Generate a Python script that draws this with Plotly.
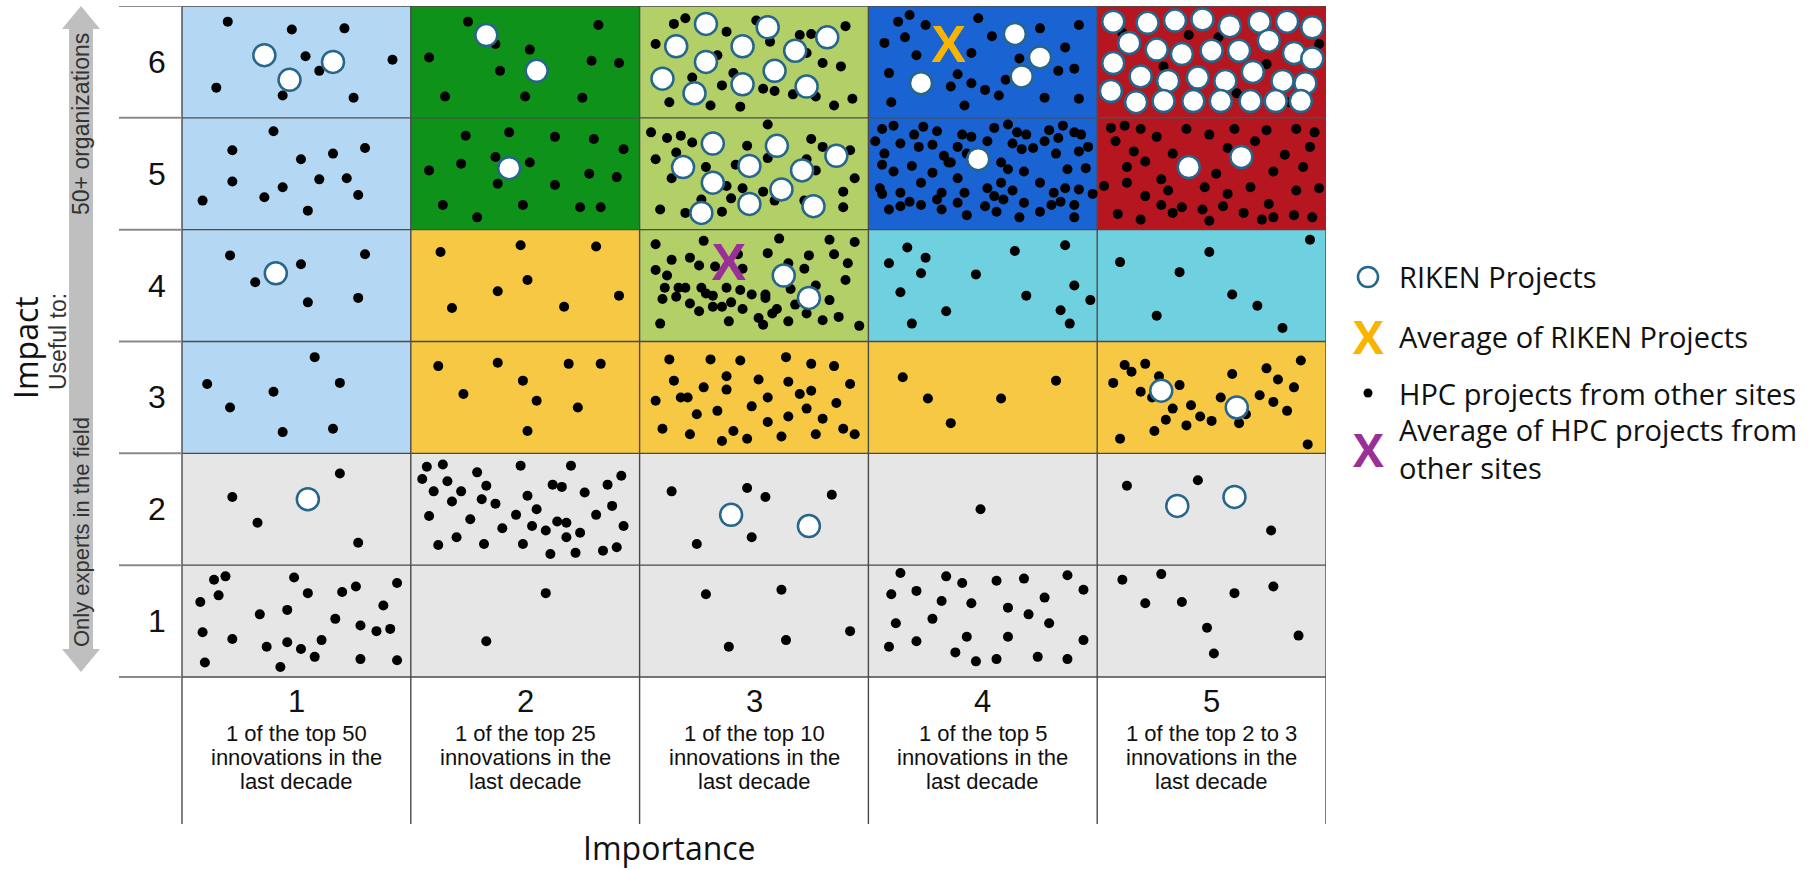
import plotly.graph_objects as go

# ---------------- data ----------------
importance_levels = [1, 2, 3, 4, 5]
importance_desc = [
    ["1 of the top 50", "innovations in the", "last decade"],
    ["1 of the top 25", "innovations in the", "last decade"],
    ["1 of the top 10", "innovations in the", "last decade"],
    ["1 of the top 5", "innovations in the", "last decade"],
    ["1 of the top 2 to 3", "innovations in the", "last decade"],
]
impact_levels = [1, 2, 3, 4, 5, 6]

# HPC projects from other sites (importance, impact), grouped by impact row
hpc_impact6 = [
    (0.70, 6.36), (0.98, 6.29), (1.21, 6.30), (1.04, 6.05), (1.10, 5.92), (1.42, 6.02), (0.65, 5.77), (0.94, 5.70), (1.25, 5.68),
    (1.75, 6.36), (2.32, 6.33), (1.87, 6.16), (2.02, 6.11), (1.58, 6.04), (2.29, 6.01), (2.41, 5.99), (1.89, 5.92), (1.65, 5.69), (2.00, 5.69), (2.25, 5.68),
    (2.65, 6.34), (2.70, 6.39), (2.57, 6.16), (2.88, 6.27), (2.84, 6.06), (2.73, 5.86), (2.91, 5.90), (2.86, 5.79), (2.63, 5.64), (2.81, 5.61), (2.94, 5.60),
    (3.01, 6.37), (3.07, 6.18), (3.20, 6.24), (3.25, 6.25), (3.40, 6.32), (3.30, 5.99), (3.38, 5.96), (3.04, 5.76), (3.09, 5.74), (3.17, 5.71), (3.27, 5.69),
    (3.35, 5.61), (3.43, 5.67), (3.23, 6.08),
    (3.63, 6.36), (3.68, 6.42), (3.75, 6.33), (3.57, 6.17), (3.66, 6.22), (3.71, 6.06), (3.59, 5.90), (3.60, 5.64), (3.98, 6.39), (4.04, 6.23), (3.95, 6.08),
    (3.89, 5.89), (3.86, 5.78), (3.95, 5.81), (4.01, 5.75), (4.07, 5.70), (3.92, 5.61), (4.16, 6.03), (4.25, 6.30), (4.36, 6.13), (4.42, 6.33), (4.33, 5.92),
    (4.40, 5.94), (4.10, 5.84), (4.27, 5.68), (4.42, 5.67),
    (4.61, 6.26), (5.03, 6.22), (5.24, 5.98), (5.47, 6.16), (5.34, 5.64), (4.79, 5.96), (5.11, 5.72), (4.90, 6.24),
]
hpc_impact5 = [
    (0.90, 5.38), (0.72, 5.21), (1.02, 5.13), (1.16, 5.18), (1.30, 5.23), (0.72, 4.93), (0.94, 4.88), (1.10, 4.95), (1.22, 4.96), (0.86, 4.79), (1.27, 4.81),
    (0.59, 4.76), (1.05, 4.67),
    (1.74, 5.34), (1.93, 5.37), (2.13, 5.33), (2.30, 5.31), (2.43, 5.22), (1.87, 5.15), (2.02, 5.10), (1.72, 5.09), (1.58, 5.03), (2.28, 5.00), (2.40, 4.97),
    (1.88, 4.91), (2.13, 4.90), (1.64, 4.72), (1.79, 4.61), (1.99, 4.72), (2.24, 4.70), (2.33, 4.70),
    (2.55, 5.37), (2.62, 5.32), (2.68, 5.34), (2.73, 5.28), (2.66, 5.19), (2.57, 5.13), (2.97, 5.25), (2.79, 5.06), (2.64, 4.96), (2.92, 5.08), (2.88, 4.89),
    (2.90, 4.78), (2.95, 4.87), (2.59, 4.68), (2.70, 4.65), (2.86, 4.66), (2.77, 4.77), (3.06, 5.44), (3.25, 5.31), (3.30, 5.24), (3.42, 5.21), (3.06, 5.14),
    (3.23, 5.13), (3.27, 5.03), (3.44, 4.96), (3.04, 4.84), (3.39, 4.84), (3.09, 4.76), (3.39, 4.70), (3.22, 4.76),
    (3.91, 5.35), (3.95, 5.33), (4.05, 5.41), (4.11, 5.44), (4.15, 5.37), (4.19, 5.35), (4.29, 5.39), (4.35, 5.43), (4.40, 5.37), (4.43, 5.35), (3.89, 5.24),
    (4.02, 5.29), (4.13, 5.27), (4.17, 5.22), (4.22, 5.23), (4.27, 5.29), (4.33, 5.32), (4.46, 5.24), (4.42, 5.20), (4.32, 5.18), (3.86, 5.10), (3.93, 5.18),
    (4.08, 5.10), (4.11, 5.04), (4.18, 5.02), (4.37, 5.04), (4.45, 5.05), (3.89, 4.96), (4.02, 4.87), (4.08, 4.92), (4.13, 4.85), (4.25, 4.92), (4.31, 4.83),
    (4.36, 4.87), (4.42, 4.86), (3.92, 4.83), (4.05, 4.80),
    (3.56, 5.40), (3.61, 5.43), (3.74, 5.42), (3.80, 5.38), (3.53, 5.29), (3.64, 5.27), (3.70, 5.35), (3.72, 5.24), (3.78, 5.26), (3.57, 5.18), (3.83, 5.16),
    (3.56, 5.08), (3.61, 5.02), (3.69, 5.07), (3.78, 5.01), (3.85, 5.10), (3.55, 4.87), (3.64, 4.83), (3.73, 4.92), (3.82, 4.83),
    (3.59, 4.68), (3.64, 4.71), (3.73, 4.72), (3.82, 4.68), (3.93, 4.63), (4.01, 4.71), (4.06, 4.66), (4.16, 4.61), (4.25, 4.66), (4.30, 4.72), (4.40, 4.61),
    (4.40, 4.72), (3.68, 4.75), (3.80, 4.77), (3.89, 4.74), (4.09, 4.77), (4.18, 4.74), (4.34, 4.75), (4.48, 4.82), (3.56, 4.82),
    (4.56, 5.41), (4.62, 5.43), (4.69, 5.40), (4.58, 5.29), (4.66, 5.20), (4.63, 5.06), (4.71, 5.11), (4.53, 4.89), (4.63, 4.92), (4.71, 4.80),
    (4.76, 5.33), (4.89, 5.40), (4.99, 5.35), (5.10, 5.40), (5.24, 5.39), (5.37, 5.40), (5.45, 5.37), (4.83, 5.18), (5.07, 5.23), (5.19, 5.29), (5.32, 5.17),
    (5.43, 5.24), (4.78, 4.95), (5.02, 5.00), (5.27, 5.02), (5.40, 5.06), (4.81, 4.85), (4.97, 4.88), (5.07, 4.82), (5.17, 4.88), (5.37, 4.85), (5.47, 4.87),
    (4.78, 4.72), (4.83, 4.65), (4.87, 4.70), (4.96, 4.68), (4.99, 4.58), (5.05, 4.71), (5.14, 4.65), (5.22, 4.59), (5.27, 4.61), (5.25, 4.73), (5.36, 4.63),
    (4.59, 4.64), (4.69, 4.59), (5.44, 4.61),
]
hpc_impact4 = [
    (0.71, 4.27), (1.30, 4.28), (1.02, 4.19), (0.82, 4.03), (1.27, 3.89), (1.05, 3.85),
    (1.63, 4.30), (1.98, 4.36), (2.31, 4.35), (2.01, 4.05), (1.88, 3.95), (2.41, 3.91), (1.68, 3.80), (2.17, 3.81),
    (2.57, 4.37), (2.78, 4.40), (2.64, 4.23), (2.72, 4.25), (2.76, 4.18), (2.57, 4.14), (2.83, 4.17), (2.62, 4.09), (2.95, 4.15), (2.93, 4.28), (2.61, 3.98),
    (2.67, 3.98), (2.70, 3.98), (2.77, 3.98), (2.88, 3.98), (2.94, 3.96), (2.82, 3.91), (3.11, 4.42), (3.33, 4.41), (3.44, 4.39), (3.06, 4.29), (3.15, 4.20),
    (3.24, 4.27), (3.35, 4.28), (3.41, 4.20), (3.22, 4.15), (3.40, 4.05), (3.27, 4.00), (3.05, 3.92), (3.16, 3.97), (2.66, 3.90), (2.79, 3.93), (2.99, 3.92),
    (3.05, 3.89), (2.60, 3.88), (2.72, 3.84), (2.76, 3.77), (2.82, 3.81), (2.86, 3.81), (2.90, 3.85), (2.95, 3.79), (2.89, 3.68), (3.02, 3.71), (3.04, 3.65),
    (3.08, 3.75), (3.10, 3.79), (3.15, 3.68), (3.18, 3.83), (3.23, 3.75), (3.30, 3.69), (3.33, 3.87), (3.37, 3.72), (3.46, 3.64), (2.59, 3.66),
    (3.67, 4.34), (3.75, 4.25), (3.59, 4.20), (4.14, 4.31), (4.36, 4.36), (3.73, 4.11), (3.97, 4.10), (4.40, 4.00), (4.19, 3.91), (3.64, 3.94), (3.84, 3.77),
    (3.69, 3.66), (4.34, 3.78), (4.38, 3.66), (4.47, 3.87),
    (4.60, 4.21), (4.86, 4.12), (4.99, 4.30), (5.09, 3.92), (5.20, 3.82), (4.76, 3.73), (5.31, 3.62), (5.43, 4.41),
]
hpc_impact3 = [
    (1.08, 3.36), (0.61, 3.12), (0.90, 3.05), (1.19, 3.13), (0.71, 2.91), (0.94, 2.69), (1.16, 2.72),
    (1.62, 3.28), (1.88, 3.31), (2.19, 3.30), (2.33, 3.30), (1.99, 3.15), (1.73, 3.03), (2.05, 2.97), (2.23, 2.91), (2.01, 2.70),
    (2.63, 3.34), (2.81, 3.34), (2.94, 3.33), (3.14, 3.36), (3.25, 3.30), (3.35, 3.28), (2.65, 3.15), (2.78, 3.09), (2.88, 3.19), (2.88, 3.07), (3.02, 3.16),
    (3.15, 3.14), (3.25, 3.06), (3.20, 3.03), (3.06, 3.00), (3.42, 3.12), (2.68, 3.00), (2.71, 3.00), (2.57, 2.97), (2.75, 2.85), (2.84, 2.88), (2.99, 2.92),
    (3.36, 2.95), (3.23, 2.90), (3.15, 2.83), (3.06, 2.78), (3.30, 2.81), (3.39, 2.72), (3.27, 2.67), (2.60, 2.72), (2.72, 2.67), (2.91, 2.70), (2.97, 2.63),
    (2.86, 2.61), (3.12, 2.65), (3.44, 2.67),
    (3.65, 3.18), (4.32, 3.15), (3.76, 2.99), (4.08, 2.99), (3.86, 2.77),
    (4.62, 3.29), (4.71, 3.30), (4.65, 3.23), (4.57, 3.13), (4.69, 3.05), (4.74, 3.00), (4.75, 2.70), (4.60, 2.63), (4.77, 3.19), (4.86, 3.11), (4.83, 2.90),
    (4.91, 2.93), (4.95, 2.83), (5.00, 2.79), (5.04, 3.00), (5.09, 3.21), (5.12, 2.77), (5.15, 2.85), (5.21, 3.02), (5.24, 3.26), (5.27, 2.96), (5.29, 3.16),
    (5.33, 2.88), (5.36, 3.09), (5.39, 3.33), (4.80, 2.80), (4.89, 2.75), (5.42, 2.58),
]
hpc_impact2 = [
    (1.19, 2.32), (0.72, 2.11), (0.83, 1.88), (1.27, 1.70),
    (1.57, 2.38), (1.64, 2.40), (1.79, 2.33), (1.98, 2.39), (2.20, 2.39), (2.42, 2.30), (1.55, 2.27), (1.66, 2.25), (1.83, 2.21), (2.12, 2.22), (2.16, 2.20),
    (2.36, 2.22), (1.72, 2.16), (2.26, 2.15), (1.60, 2.16), (1.68, 2.07), (1.81, 2.09), (1.87, 2.05), (2.01, 2.12), (2.38, 2.03), (1.58, 1.94), (1.76, 1.91),
    (1.96, 1.95), (2.05, 2.00), (2.31, 1.95), (2.43, 1.85), (1.90, 1.83), (2.03, 1.85), (2.09, 1.81), (2.14, 1.89), (2.18, 1.88), (2.24, 1.79), (2.18, 1.75),
    (1.62, 1.68), (1.70, 1.75), (1.82, 1.69), (1.99, 1.69), (2.11, 1.60), (2.22, 1.61), (2.34, 1.63), (2.40, 1.66),
    (2.64, 2.16), (2.97, 2.19), (3.05, 2.11), (3.34, 2.13), (2.75, 1.69), (2.99, 1.75),
    (3.99, 2.00),
    (4.63, 2.21), (4.94, 2.26), (5.26, 1.81),
]
hpc_impact1 = [
    (0.69, 1.40), (0.64, 1.37), (0.58, 1.17), (0.66, 1.23), (0.99, 1.39), (0.84, 1.06), (0.96, 1.10), (1.05, 1.25), (1.20, 1.26), (1.26, 1.31), (1.44, 1.34),
    (1.38, 1.14), (1.17, 1.02), (0.59, 0.90), (0.72, 0.84), (0.87, 0.77), (0.96, 0.81), (1.02, 0.75), (1.08, 0.68), (1.11, 0.83), (1.28, 0.96), (1.35, 0.91),
    (1.41, 0.93), (0.60, 0.63), (0.93, 0.59), (1.28, 0.66), (1.44, 0.65),
    (2.09, 1.25), (1.83, 0.82),
    (2.79, 1.24), (3.12, 1.28), (2.89, 0.77), (3.14, 0.83), (3.42, 0.91),
    (3.64, 1.43), (3.84, 1.40), (3.91, 1.34), (4.06, 1.36), (4.18, 1.38), (4.37, 1.41), (4.44, 1.28), (3.60, 1.24), (3.71, 1.27), (3.82, 1.18), (3.95, 1.16),
    (4.27, 1.21), (4.11, 1.12), (4.20, 1.06), (3.78, 1.02), (3.62, 0.98), (4.29, 0.98), (3.59, 0.77), (3.71, 0.82), (3.93, 0.86), (4.11, 0.86), (4.44, 0.83),
    (3.88, 0.72), (3.97, 0.64), (4.06, 0.66), (4.24, 0.68), (4.37, 0.66),
    (4.61, 1.37), (4.78, 1.42), (4.71, 1.16), (4.87, 1.17), (5.10, 1.25), (5.27, 1.31), (4.98, 0.94), (5.38, 0.87), (5.01, 0.71),
]

# RIKEN projects (importance, impact)
riken_projects = [
    (0.86, 6.06), (0.97, 5.84), (1.16, 6.00), (1.83, 6.24), (2.05, 5.92),
    (2.79, 6.34), (2.66, 6.14), (2.95, 6.14), (2.79, 6.00), (2.60, 5.85), (2.74, 5.72), (2.95, 5.80), (3.06, 6.31), (3.18, 6.10), (3.32, 6.22), (3.09, 5.92),
    (3.23, 5.78),
    (3.73, 5.81), (4.14, 6.25), (4.25, 6.04), (4.17, 5.87),
    (4.57, 6.36), (4.72, 6.35), (4.84, 6.37), (4.96, 6.38), (5.08, 6.32), (5.21, 6.36), (5.33, 6.36), (5.44, 6.31),
    (4.64, 6.17), (4.76, 6.11), (4.87, 6.07), (5.00, 6.10), (5.12, 6.10), (5.25, 6.19), (5.36, 6.08), (5.44, 6.03),
    (4.57, 5.99), (4.69, 5.87), (4.81, 5.83), (4.94, 5.86), (5.06, 5.83), (5.18, 5.91), (5.31, 5.83), (5.41, 5.81),
    (4.56, 5.74), (4.67, 5.64), (4.79, 5.65), (4.92, 5.65), (5.04, 5.65), (5.17, 5.65), (5.28, 5.65), (5.39, 5.65),
    (1.93, 5.05),
    (2.82, 5.27), (2.69, 5.06), (2.82, 4.92), (2.98, 5.07), (2.77, 4.65), (2.98, 4.73), (3.10, 5.25), (3.36, 5.16), (3.21, 5.03), (3.12, 4.86), (3.26, 4.71),
    (3.98, 5.13), (4.90, 5.06), (5.13, 5.15),
    (0.91, 4.11), (3.13, 4.09), (3.24, 3.89),
    (4.78, 3.06), (5.11, 2.91),
    (1.05, 2.09), (2.90, 1.95), (3.24, 1.85), (4.85, 2.03), (5.10, 2.11),
]
riken_average = [(3.85, 6.12)]
hpc_average = [(2.89, 4.17)]

legend_labels = ["RIKEN Projects", "Average of RIKEN Projects", "HPC projects from other sites",
                 "Average of HPC projects from<br>other sites"]

# ---------------- styles / geometry ----------------
W, H = 1816, 870
LB, GR_, LG, BL, RD, YE, CY, GY = ("#b4d8f4", "#0f921a", "#b2cf68", "#1a63d3", "#b5161f", "#f7c843", "#6fd0df", "#e6e6e6")
cell_fill = {
    6: [LB, GR_, LG, BL, RD],
    5: [LB, GR_, LG, BL, RD],
    4: [LB, YE, LG, CY, CY],
    3: [LB, YE, YE, YE, YE],
    2: [GY, GY, GY, GY, GY],
    1: [GY, GY, GY, GY, GY],
}
LABEL_LEFT, GRID_LEFT, GRID_RIGHT = 119, 182, 1326
GRID_TOP, GRID_BOTTOM, LABEL_BOTTOM = 6, 677, 824
colw = (GRID_RIGHT - GRID_LEFT) / 5
rowh = (GRID_BOTTOM - GRID_TOP) / 6
xmin = 0.5 - (GRID_LEFT - LABEL_LEFT) / colw
ymin = 0.5 - (LABEL_BOTTOM - GRID_BOTTOM) / rowh
TXT = "#111111"


def px(x):
    return x / W


def py(y):
    return 1 - y / H


fig = go.Figure()

shapes = []
for r in impact_levels:
    for ci, c in enumerate(importance_levels):
        shapes.append(dict(type="rect", xref="x", yref="y", x0=c - 0.5, x1=c + 0.5, y0=r - 0.5, y1=r + 0.5,
                           fillcolor=cell_fill[r][ci], line=dict(width=0), layer="below"))
for k in range(6):
    shapes.append(dict(type="line", xref="x", yref="y", x0=k + 0.5, x1=k + 0.5, y0=ymin, y1=6.5,
                       line=dict(color="#4a4a4a", width=1.4), layer="below"))
for k in range(7):
    shapes.append(dict(type="line", xref="x", yref="y", x0=xmin, x1=0.5, y0=k + 0.5, y1=k + 0.5,
                       line=dict(color="#8a8a8a", width=2), layer="below"))
    shapes.append(dict(type="line", xref="x", yref="y", x0=0.5, x1=5.5, y0=k + 0.5, y1=k + 0.5,
                       line=dict(color="#4a4a4a", width=1.4), layer="below"))

# double-headed gray arrow (decoration)
cx, top, bot, hw, sw, hh = 81, 6, 672, 19, 12, 23
pts = [(cx, top), (cx + hw, top + hh), (cx + sw, top + hh), (cx + sw, bot - hh), (cx + hw, bot - hh),
       (cx, bot), (cx - hw, bot - hh), (cx - sw, bot - hh), (cx - sw, top + hh), (cx - hw, top + hh)]
path = "M " + " L ".join(f"{px(a):.5f},{py(b):.5f}" for a, b in pts) + " Z"
shapes.append(dict(type="path", xref="paper", yref="paper", path=path, fillcolor="#bfbfbf",
                   line=dict(width=0), layer="below"))

# legend glyphs
lx = 1368
shapes.append(dict(type="circle", xref="paper", yref="paper", x0=px(lx - 10), x1=px(lx + 10), y0=py(277 + 10), y1=py(277 - 10),
                   fillcolor="white", line=dict(color="#26668a", width=2.5)))
shapes.append(dict(type="circle", xref="paper", yref="paper", x0=px(lx - 4.5), x1=px(lx + 4.5), y0=py(393 + 4.5), y1=py(393 - 4.5),
                   fillcolor="black", line=dict(width=0)))

hpc_all = hpc_impact6 + hpc_impact5 + hpc_impact4 + hpc_impact3 + hpc_impact2 + hpc_impact1
fig.add_trace(go.Scatter(x=[p[0] for p in hpc_all], y=[p[1] for p in hpc_all], mode="markers",
                         marker=dict(size=10, color="black"), name=legend_labels[2], hoverinfo="skip"))
fig.add_trace(go.Scatter(x=[p[0] for p in riken_projects], y=[p[1] for p in riken_projects], mode="markers",
                         marker=dict(size=22, color="white", line=dict(color="#26668a", width=2.5)),
                         name=legend_labels[0], hoverinfo="skip"))
fig.add_trace(go.Scatter(x=[p[0] for p in riken_average], y=[p[1] for p in riken_average], mode="text", text=["X"],
                         textfont=dict(family="Liberation Sans", size=52, color="#f9b400", weight="bold"),
                         name=legend_labels[1], hoverinfo="skip"))
fig.add_trace(go.Scatter(x=[p[0] for p in hpc_average], y=[p[1] for p in hpc_average], mode="text", text=["X"],
                         textfont=dict(family="Liberation Sans", size=52, color="#9a2f98", weight="bold"),
                         name=legend_labels[3], hoverinfo="skip"))


def note(x, y, text, size, family="Liberation Sans", color=TXT, xref="paper", yref="paper", angle=0,
         xanchor="center", yanchor="middle", align="center"):
    return dict(xref=xref, yref=yref, x=x, y=y, text=text, showarrow=False, textangle=angle,
                xanchor=xanchor, yanchor=yanchor, align=align, font=dict(family=family, size=size, color=color))


ann = []
for r in impact_levels:
    ann.append(note(0.5 - (GRID_LEFT - 157) / colw, r, str(r), 32, xref="x", yref="y"))
sub_y = [733, 757, 781]
for c, lines in zip(importance_levels, importance_desc):
    ann.append(note(c, py(701), str(c), 31, xref="x"))
    for line, yy in zip(lines, sub_y):
        ann.append(note(c, py(yy), line, 22, xref="x"))

ann += [
    note(px(25), py(348), "Impact", 32, family="Open Sans", angle=-90),
    note(px(58), py(342), "Useful to:", 23, color="#333333", angle=-90),
    note(px(cx), py(124), "50+ organizations", 23, color="#333333", angle=-90),
    note(px(cx), py(532), "Only experts in the field", 22, color="#333333", angle=-90),
    note(px(669), py(847), "Importance", 32, family="Open Sans"),
]
leg_y = [277, 336, 393, 449]
for lbl, yy in zip(legend_labels, leg_y):
    ann.append(note(px(1397), py(yy), lbl, 29, family="Open Sans", xanchor="left", align="left"))
ann.append(note(px(lx), py(336), "<b>X</b>", 46, family="Open Sans", color="#f9b400"))
ann.append(note(px(lx), py(449), "<b>X</b>", 46, family="Open Sans", color="#9a2f98"))

fig.update_layout(
    width=W, height=H, margin=dict(l=0, r=0, t=0, b=0),
    paper_bgcolor="white", plot_bgcolor="white", showlegend=False,
    shapes=shapes, annotations=ann,
    xaxis=dict(range=[xmin, 5.5], domain=[px(LABEL_LEFT), px(GRID_RIGHT)], visible=False, fixedrange=True),
    yaxis=dict(range=[ymin, 6.5], domain=[py(LABEL_BOTTOM), py(GRID_TOP)], visible=False, fixedrange=True),
)
fig.write_html("out.html", config={"displayModeBar": False},
               post_script="document.body.style.margin='0';document.body.style.overflow='hidden';")
